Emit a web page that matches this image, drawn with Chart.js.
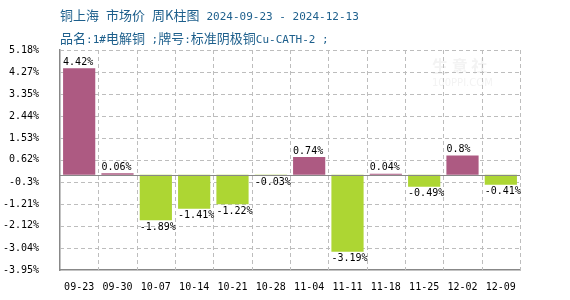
<!DOCTYPE html>
<html>
<head>
<meta charset="utf-8">
<script src="https://cdn.jsdelivr.net/npm/chart.js@4"></script>
<style>
    body { margin: 0; background: #fff; }
    .box { position: relative; width: 570px; height: 300px; }
    .title { position: absolute; left: 60px; height: 18px; line-height: 18px; font: 11px 'DejaVu Sans Mono', 'Noto Sans CJK SC'; color: #1d5f8c; white-space: pre; }
    .title .cn { font-family: 'Noto Sans CJK SC'; font-size: 13px; }
    .title .gap { display: inline-block; width: 7px; }
</style>
</head>
<body>
<div class="box">
    <canvas id="myChart" width="570" height="300"></canvas>
    <div class="title" style="top:5px"><span class="cn">铜上海</span><span class="gap"></span><span class="cn">市场价</span><span class="gap"></span><span class="cn">周K柱图</span><span class="gap"></span>2024-09-23 - 2024-12-13</div>
    <div class="title" style="top:28px"><span class="cn">品名</span>:1#<span class="cn">电解铜</span> ;<span class="cn">牌号</span>:<span class="cn">标准阴极铜</span>Cu-CATH-2 ;</div>
</div>
<script>
"use strict"

const weeks = ['09-23', '09-30', '10-07', '10-14', '10-21', '10-28', '11-04', '11-11', '11-18', '11-25', '12-02', '12-09']
const changes = [4.42, 0.06, -1.89, -1.41, -1.22, -0.03, 0.74, -3.19, 0.04, -0.49, 0.8, -0.41]
const yTicks = [5.18, 4.27, 3.35, 2.44, 1.53, 0.62, -0.3, -1.21, -2.12, -3.04, -3.95]

const UP = '#ad5a82'
const DOWN = '#add633'
const MONO = "10px 'DejaVu Sans Mono'"

function drawLine(ctx, x1, y1, x2, y2) {
    ctx.beginPath()
    ctx.moveTo(x1, y1)
    ctx.lineTo(x2, y2)
    ctx.stroke()
}

// dashed grid, zero line, value labels
const extras = {
    id: 'extras',
    beforeDatasetsDraw(chart) {
        const ctx = chart.ctx
        const { left, right, top, bottom } = chart.chartArea
        const xs = chart.scales.x, ys = chart.scales.y
        ctx.save()
        // faint watermark
        ctx.fillStyle = '#f3f3f3'
        ctx.font = "bold 16px 'Noto Sans CJK SC'"
        ctx.fillText('生 意 社', 432, 72)
        ctx.font = "10px 'DejaVu Sans'"
        ctx.fillText('100PPI.COM', 432, 86)

        ctx.strokeStyle = '#bdbdbd'
        ctx.lineWidth = 1
        ctx.setLineDash([4, 3])
        yTicks.forEach(v => {
            const y = Math.round(ys.getPixelForValue(v)) + 0.5
            if (y > bottom - 1) return
            drawLine(ctx, left, y, right, y)
        })
        const step = (right - left) / weeks.length
        for (let i = 1; i <= weeks.length; i++) {
            const x = Math.round(xs.getPixelForValue(i - 1) + step / 2) + 0.5
            drawLine(ctx, x, top, x, bottom)
        }
        ctx.restore()
    },
    afterDatasetsDraw(chart) {
        const ctx = chart.ctx
        const y0 = chart.scales.y.getPixelForValue(0)
        ctx.save()
        ctx.strokeStyle = '#888'
        ctx.lineWidth = 1
        drawLine(ctx, chart.chartArea.left, Math.round(y0) + 0.5, chart.chartArea.right, Math.round(y0) + 0.5)

        ctx.font = MONO
        ctx.fillStyle = '#000'
        ctx.textAlign = 'left'
        chart.getDatasetMeta(0).data.forEach((bar, i) => {
            const v = changes[i]
            const x = bar.x - bar.width / 2
            if (v >= 0) {
                ctx.textBaseline = 'bottom'
                ctx.fillText(v + '%', x, bar.y - 1)
            } else {
                ctx.textBaseline = 'top'
                ctx.fillText(v + '%', x, bar.y + 2)
            }
        })
        ctx.restore()
    }
}

new Chart(document.getElementById('myChart'), {
    type: 'bar',
    data: {
        labels: weeks,
        datasets: [{
            data: changes,
            backgroundColor: changes.map(v => v >= 0 ? UP : DOWN),
            barPercentage: 0.84,
            categoryPercentage: 1,
        }]
    },
    options: {
        responsive: false,
        animation: false,
        layout: { padding: { top: 50, right: 50, left: 0, bottom: 0 } },
        plugins: { legend: { display: false }, tooltip: { enabled: false } },
        scales: {
            x: {
                grid: { display: false, drawTicks: false, tickLength: 0 },
                border: { display: true, color: '#888', width: 1.5 },
                ticks: { font: { family: 'DejaVu Sans Mono', size: 10 }, color: '#000', padding: 11, maxRotation: 0 },
                afterFit(scale) { scale.height = 30 }
            },
            y: {
                min: -3.95,
                max: 5.18,
                afterBuildTicks(scale) { scale.ticks = yTicks.map(v => ({ value: v })) },
                grid: { display: false, drawTicks: false, tickLength: 0 },
                border: { display: true, color: '#888', width: 1.5 },
                ticks: {
                    font: { family: 'DejaVu Sans Mono', size: 10 },
                    color: '#000',
                    padding: 21,
                    callback: (v) => v + '%'
                },
                afterFit(scale) { scale.width = 60 }
            }
        }
    },
    plugins: [extras]
})
</script>
</body>
</html>
